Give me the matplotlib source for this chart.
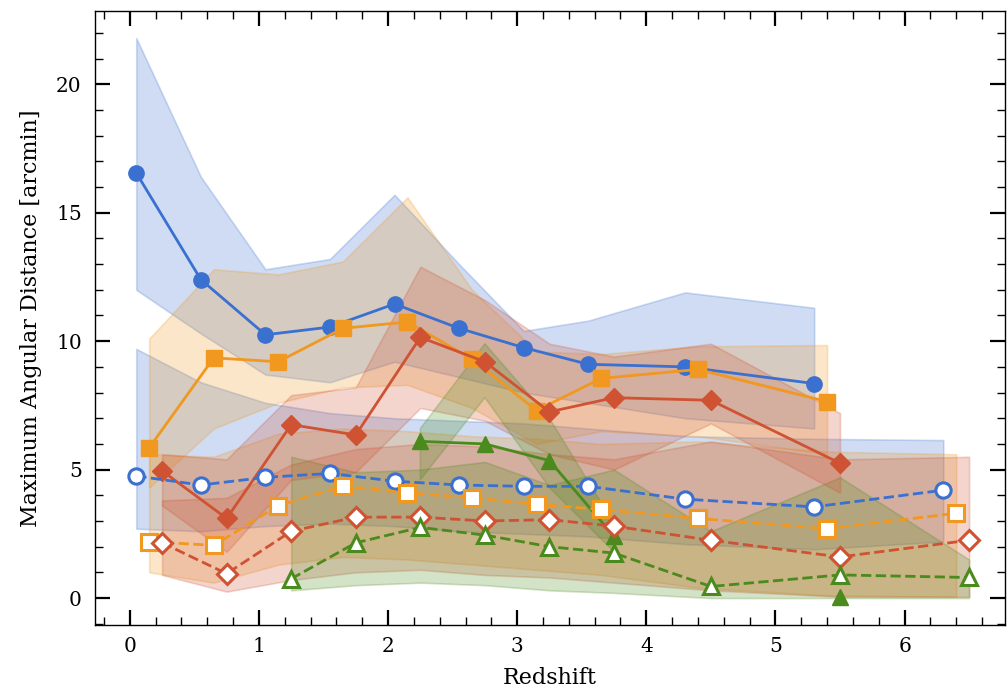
import numpy as np
import matplotlib.pyplot as plt

plt.rcParams['font.family'] = 'DejaVu Serif'

nan = np.nan

c_blue = '#3a70cf'
c_orange = '#f0981f'
c_red = '#cf5233'
c_green = '#4b8a1c'

# filled series (solid lines)
x_blue = [0.05, 0.55, 1.05, 1.55, 2.05, 2.55, 3.05, 3.55, 4.3, 5.3]
y_blue = [16.55, 12.4, 10.25, 10.55, 11.45, 10.5, 9.75, 9.1, 9.0, 8.35]
up_blue = [21.8, 16.4, 12.8, 13.2, 15.7, 13.0, 10.4, 10.8, 11.9, 11.3]
lo_blue = [12.0, 10.3, 8.7, 8.4, 9.2, 8.6, 8.0, 7.6, 7.0, 6.6]

x_orange = [0.15, 0.65, 1.15, 1.65, 2.15, 2.65, 3.15, 3.65, 4.4, 5.4]
y_orange = [5.85, 9.35, 9.2, 10.5, 10.75, 9.3, 7.3, 8.55, 8.9, 7.65]
up_orange = [10.1, 12.8, 12.6, 13.1, 15.6, 12.0, 9.6, 9.5, 9.8, 9.85]
lo_orange = [4.3, 6.6, 7.6, 8.2, 8.3, 7.4, 6.0, 6.5, 6.3, 5.6]

x_red = [0.25, 0.75, 1.25, 1.75, 2.25, 2.75, 3.25, 3.75, 4.5, 5.5]
y_red = [4.95, 3.1, 6.75, 6.35, 10.15, 9.2, 7.25, 7.8, 7.7, 5.25]
up_red = [5.6, 5.4, 7.9, 8.2, 12.9, 11.6, 9.9, 9.4, 9.9, 7.2]
lo_red = [3.6, 1.8, 4.6, 4.9, 7.4, 6.9, 5.6, 5.0, 6.8, 4.1]

x_green = [2.25, 2.75, 3.25, 3.75, 4.5, 5.5]
y_green = [6.1, 6.0, 5.35, 2.4, nan, 0.05]
up_green = [6.6, 9.9, 7.0, 2.9, nan, 0.1]
lo_green = [4.6, 7.8, 4.3, 1.8, nan, 0.0]

# open series (dashed lines)
xo_blue = [0.05, 0.55, 1.05, 1.55, 2.05, 2.55, 3.05, 3.55, 4.3, 5.3, 6.3]
yo_blue = [4.75, 4.4, 4.7, 4.85, 4.55, 4.4, 4.35, 4.35, 3.85, 3.55, 4.2]
upo_blue = [9.7, 8.4, 7.6, 7.2, 7.0, 6.9, 6.8, 6.6, 6.3, 6.2, 6.15]
loo_blue = [2.7, 2.6, 2.8, 2.9, 2.8, 2.6, 2.5, 2.4, 2.1, 1.9, 2.2]

xo_orange = [0.15, 0.65, 1.15, 1.65, 2.15, 2.65, 3.15, 3.65, 4.4, 5.4, 6.4]
yo_orange = [2.2, 2.05, 3.6, 4.35, 4.1, 3.9, 3.65, 3.45, 3.1, 2.7, 3.3]
upo_orange = [5.6, 5.5, 6.4, 6.6, 6.5, 6.3, 6.2, 6.0, 6.1, 5.7, 5.6]
loo_orange = [1.0, 0.6, 1.3, 1.6, 1.5, 1.3, 1.1, 0.9, 0.4, 0.1, 0.05]

xo_red = [0.25, 0.75, 1.25, 1.75, 2.25, 2.75, 3.25, 3.75, 4.5, 5.5, 6.5]
yo_red = [2.15, 0.95, 2.6, 3.15, 3.15, 3.0, 3.05, 2.8, 2.25, 1.6, 2.25]
upo_red = [3.8, 3.9, 5.2, 5.8, 6.0, 5.9, 5.6, 5.4, 6.1, 5.4, 5.5]
loo_red = [0.9, 0.25, 0.7, 1.0, 1.1, 0.9, 0.8, 0.6, 0.3, 0.05, 0.05]

xo_green = [1.25, 1.75, 2.25, 2.75, 3.25, 3.75, 4.5, 5.5, 6.5]
yo_green = [0.75, 2.15, 2.75, 2.45, 2.0, 1.75, 0.45, 0.9, 0.8]
upo_green = [5.5, 4.9, 5.0, 5.3, 4.4, 5.0, 2.6, 4.7, 1.5]
loo_green = [0.3, 0.5, 0.6, 0.5, 0.3, 0.2, 0.0, 0.0, 0.0]

fig = plt.figure(figsize=(10.07, 6.95), dpi=100)
ax = fig.add_axes([0.0943, 0.1007, 0.904, 0.8833])

bands = [
    (xo_blue, loo_blue, upo_blue, c_blue),
    (xo_orange, loo_orange, upo_orange, c_orange),
    (xo_red, loo_red, upo_red, c_red),
    (xo_green, loo_green, upo_green, c_green),
    (x_blue, lo_blue, up_blue, c_blue),
    (x_orange, lo_orange, up_orange, c_orange),
    (x_red, lo_red, up_red, c_red),
    (x_green, lo_green, up_green, c_green),
]
for xs, lo, up, c in bands:
    ax.fill_between(xs, lo, up, color=c, alpha=0.24, lw=1.2)

ms = 11
for xs, ys, c, m in [(x_blue, y_blue, c_blue, 'o'), (x_orange, y_orange, c_orange, 's'),
                     (x_red, y_red, c_red, 'D'), (x_green, y_green, c_green, '^')]:
    ax.plot(xs, ys, color=c, marker=m, ms=ms if m != 'D' else 10, lw=2, zorder=4)

for xs, ys, c, m in [(xo_blue, yo_blue, c_blue, 'o'), (xo_orange, yo_orange, c_orange, 's'),
                     (xo_red, yo_red, c_red, 'D'), (xo_green, yo_green, c_green, '^')]:
    ax.plot(xs, ys, color=c, marker=m, ms=ms if m != 'D' else 10, lw=2, ls='--',
            mfc='white', mec=c, mew=2.2, zorder=5)

ax.set_xlim(-0.27, 6.78)
ax.set_ylim(-1.05, 22.85)
ax.set_xticks([0, 1, 2, 3, 4, 5, 6])
ax.set_yticks([0, 5, 10, 15, 20])
ax.set_xticks(np.arange(-0.2, 6.8, 0.2), minor=True)
ax.set_yticks(np.arange(-1, 23, 1), minor=True)
ax.tick_params(which='both', direction='in', top=True, right=True, labelsize=14.5)
ax.tick_params(which='major', length=11, width=1.6)
ax.tick_params(which='minor', length=6, width=1.0)
ax.tick_params(axis='x', which='major', pad=8.5)
ax.tick_params(axis='y', which='major', pad=9.5)
for s in ax.spines.values():
    s.set_linewidth(1.0)
ax.set_xlabel('Redshift', fontsize=16, labelpad=8)
ax.set_ylabel('Maximum Angular Distance [arcmin]', fontsize=16, labelpad=10)

fig.savefig('out.png', dpi=100)
